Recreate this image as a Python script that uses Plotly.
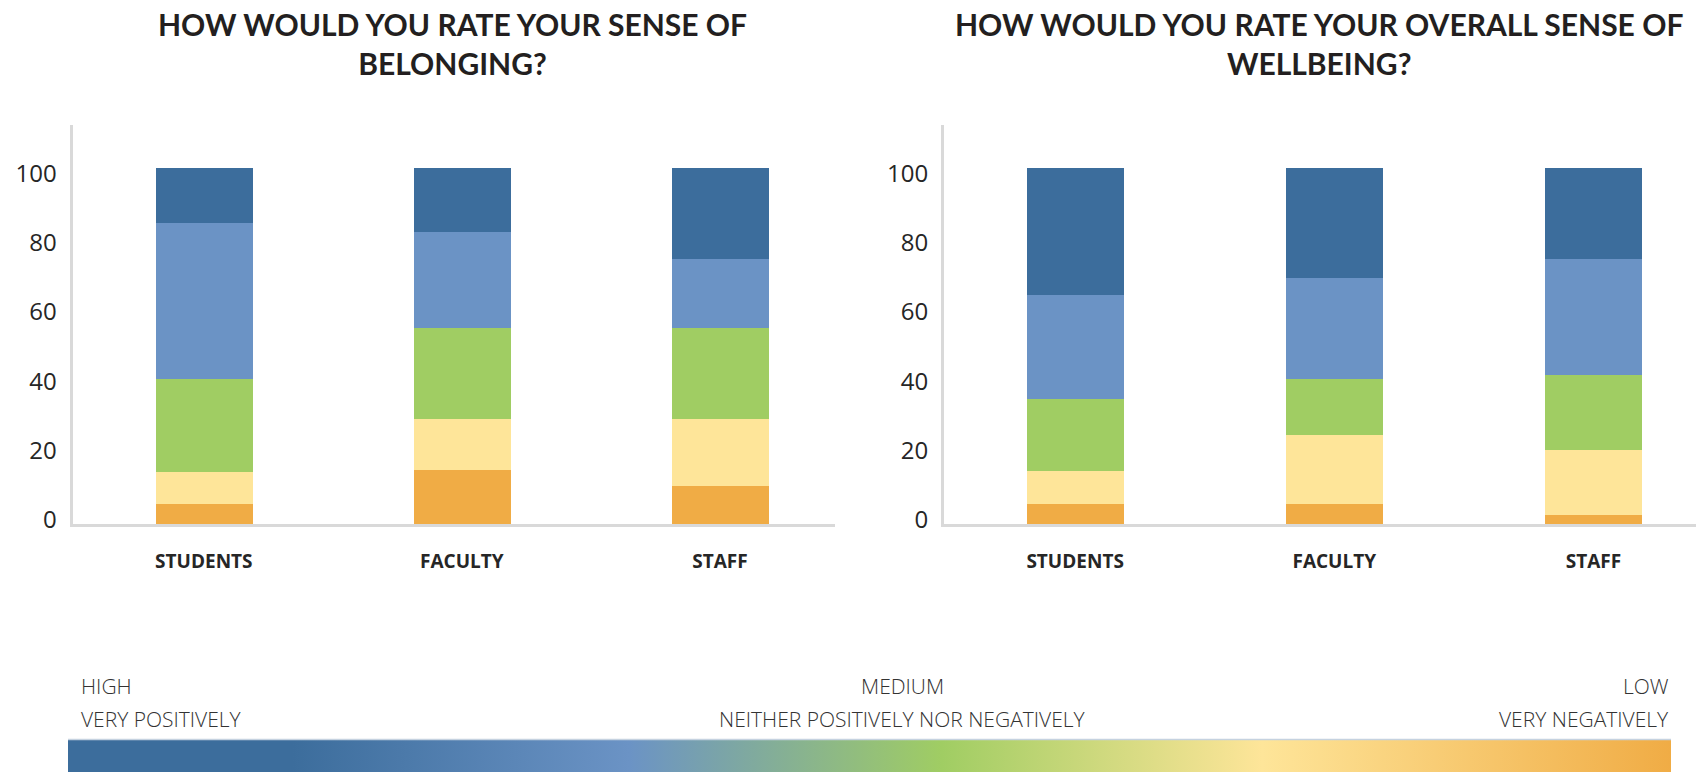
import plotly.graph_objects as go

W, H = 1696, 772

categories = ["STUDENTS", "FACULTY", "STAFF"]
series_names = ["Very negatively", "Negatively", "Neither", "Positively", "Very positively"]
series_colors = ["#F0AC45", "#FEE599", "#A0CD63", "#6B93C5", "#3C6D9C"]

belonging_very_neg = [5.8, 15.5, 11.0]
belonging_neg = [9.3, 14.8, 19.3]
belonging_neutral = [26.7, 26.2, 26.2]
belonging_pos = [45.0, 27.7, 19.9]
belonging_very_pos = [15.8, 18.4, 26.2]

wellbeing_very_neg = [5.8, 5.8, 2.6]
wellbeing_neg = [9.5, 19.9, 18.7]
wellbeing_neutral = [20.8, 16.1, 21.7]
wellbeing_pos = [30.0, 29.2, 33.4]
wellbeing_very_pos = [36.5, 31.6, 26.2]

y_ticks = [0, 20, 40, 60, 80, 100]

title_left = "HOW WOULD YOU RATE YOUR SENSE OF<br>BELONGING?"
title_right = "HOW WOULD YOU RATE YOUR OVERALL SENSE OF<br>WELLBEING?"

scale_top = ["HIGH", "MEDIUM", "LOW"]
scale_bottom = ["VERY POSITIVELY", "NEITHER POSITIVELY NOR NEGATIVELY", "VERY NEGATIVELY"]
gradient_stops = [(0.0, "#3C6D9C"), (0.14, "#3C6D9C"), (0.35, "#6B93C5"),
                  (0.545, "#A0CD63"), (0.745, "#FEE599"), (1.0, "#F0AC45")]


def px_x(v):
    return v / W


def px_y(v):
    return 1 - v / H


fig = go.Figure()

belonging = [belonging_very_neg, belonging_neg, belonging_neutral, belonging_pos, belonging_very_pos]
wellbeing = [wellbeing_very_neg, wellbeing_neg, wellbeing_neutral, wellbeing_pos, wellbeing_very_pos]

for data, xa, ya in [(belonging, "x", "y"), (wellbeing, "x2", "y2")]:
    for name, vals, col in zip(series_names, data, series_colors):
        fig.add_trace(go.Bar(x=categories, y=vals, name=name, marker_color=col,
                             marker_line_width=0, width=0.374, xaxis=xa, yaxis=ya,
                             showlegend=False, hoverinfo="skip"))

# gradient scale bar
fig.add_trace(go.Scatter(x=[0, 1, 1, 0, 0], y=[0, 0, 1, 1, 0], mode="lines",
                         line=dict(width=0), fill="toself",
                         fillgradient=dict(type="horizontal",
                                           colorscale=[[s, c] for s, c in gradient_stops]),
                         xaxis="x3", yaxis="y3", showlegend=False, hoverinfo="skip"))

axis_line = dict(showline=True, linecolor="#D9D9D9", linewidth=3, showgrid=False,
                 zeroline=False, fixedrange=True, automargin=False)
xtick_font = dict(family="Open Sans", size=19, color="#262626", weight="bold")
ytick_font = dict(family="Open Sans", size=24, color="#262626")

ydom = [px_y(524), px_y(125)]

fig.update_layout(
    width=W, height=H,
    margin=dict(l=0, r=0, t=0, b=0, pad=0, autoexpand=False),
    paper_bgcolor="white", plot_bgcolor="white",
    barmode="stack", bargap=0,
    xaxis=dict(domain=[px_x(72.5), px_x(835)], range=[-0.509, 2.446], anchor="y",
               ticks="", tickfont=xtick_font, ticklabelstandoff=18, **axis_line),
    yaxis=dict(domain=ydom, range=[0, 115.1], anchor="x", tickvals=y_ticks,
               ticks="", tickfont=ytick_font, ticklabelstandoff=8, ticklabelshift=-4,
               **axis_line),
    xaxis2=dict(domain=[px_x(944), 1.0], range=[-0.506, 2.396], anchor="y2",
                ticks="", tickfont=xtick_font, ticklabelstandoff=18, **axis_line),
    yaxis2=dict(domain=ydom, range=[0, 115.1], anchor="x2", tickvals=y_ticks,
                ticks="", tickfont=ytick_font, ticklabelstandoff=8, ticklabelshift=-4,
                **axis_line),
    xaxis3=dict(domain=[px_x(68), px_x(1671)], range=[0, 1], visible=False,
                fixedrange=True, automargin=False),
    yaxis3=dict(domain=[0, px_y(739.5)], range=[0, 1], visible=False,
                fixedrange=True, automargin=False),
)

# thin light edge on top of the gradient bar
fig.add_shape(type="line", xref="paper", yref="paper", x0=px_x(68), x1=px_x(1671),
              y0=px_y(739.5), y1=px_y(739.5), line=dict(color="#C5D2E0", width=1.5))

title_font = dict(family="Lato", size=30, color="#231F20", weight="bold")
fig.add_annotation(text=title_left, x=px_x(452), y=px_y(4), xref="paper", yref="paper",
                   xanchor="center", yanchor="top", showarrow=False, font=title_font, align="center")
fig.add_annotation(text=title_right, x=px_x(1319), y=px_y(4), xref="paper", yref="paper",
                   xanchor="center", yanchor="top", showarrow=False, font=title_font, align="center")

scale_font = dict(family="Open Sans", size=21, color="#333333", weight=300)
positions = [(79, "left"), (903, "center"), (1671, "right")]
for (xp, anchor), t1, t2 in zip(positions, scale_top, scale_bottom):
    fig.add_annotation(text=t1, x=px_x(xp), y=px_y(686), xref="paper", yref="paper",
                       xanchor=anchor, yanchor="middle", showarrow=False, font=scale_font)
    fig.add_annotation(text=t2, x=px_x(xp), y=px_y(718.5), xref="paper", yref="paper",
                       xanchor=anchor, yanchor="middle", showarrow=False, font=scale_font)

pin_script = (
    "document.documentElement.style.margin='0';"
    "document.body.style.margin='0';document.body.style.padding='0';"
    "document.body.style.overflow='hidden';"
    "var d=document.getElementById('{plot_id}');"
    "d.style.position='fixed';d.style.left='0px';d.style.top='0px';"
)

fig.write_html("out.html", config={"displayModeBar": False}, post_script=pin_script)
